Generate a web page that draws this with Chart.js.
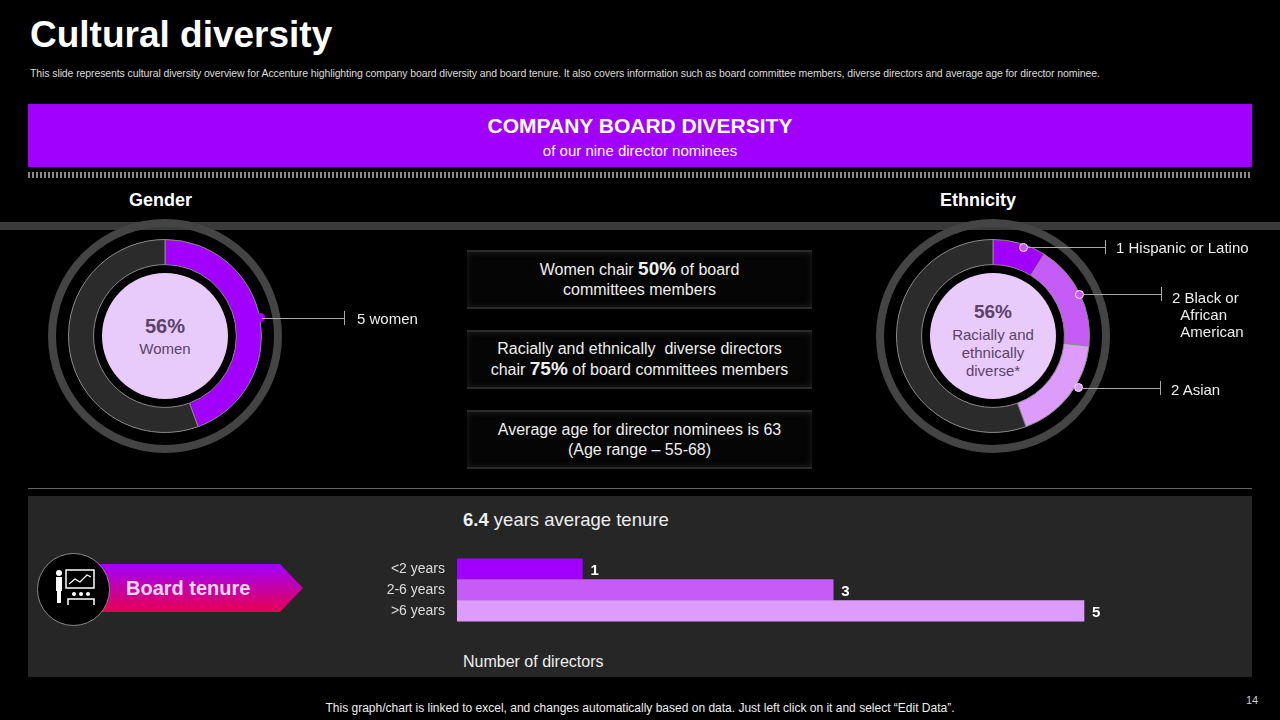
<!DOCTYPE html>
<html><head><meta charset="utf-8">
<script src="https://cdn.jsdelivr.net/npm/chart.js@4"></script>
<style>
body{margin:0;width:1280px;height:720px;background:#000;font-family:"Liberation Sans",Arial,sans-serif;color:#fff;position:relative;overflow:hidden}
.a{position:absolute}
.ring{position:absolute;border-radius:50%;box-sizing:border-box}
.box{position:absolute;left:467px;width:345px;height:55px;background:#050505;border-top:2px solid #2a2a2a;border-bottom:2px solid #2a2a2a;box-shadow:0 0 6px #222 inset;display:flex;align-items:center;justify-content:center;text-align:center;font-size:16px;line-height:20px;color:#eee}
.box b{font-size:19px}
.lbl{position:absolute;font-size:15px;color:#eee;line-height:17px}
.hl{position:absolute;height:1px;background:#aaa}
.vt{position:absolute;width:1px;height:14px;background:#aaa}
.dot{position:absolute;width:9px;height:9px;border-radius:50%;box-sizing:border-box}
</style></head><body>
<div class="a" style="left:30px;top:14px;font-size:37px;font-weight:bold">Cultural diversity</div>
<div class="a" style="left:30px;top:67px;font-size:10.5px;color:#ddd;white-space:nowrap;letter-spacing:-0.1px">This slide represents cultural diversity overview for Accenture highlighting company board diversity and board tenure. It also covers information such as board committee members, diverse directors and average age for director nominee.</div>
<div class="a" style="left:28px;top:104px;width:1224px;height:63px;background:#a100ff;text-align:center">
  <div style="font-size:21px;font-weight:bold;margin-top:10px">COMPANY BOARD DIVERSITY</div>
  <div style="font-size:15px;margin-top:4px">of our nine director nominees</div>
</div>
<div class="a" style="left:28px;top:172px;width:1224px;height:6px;background:repeating-linear-gradient(90deg,#888 0 2px,#000 2px 4px)"></div>
<div class="a" style="left:129px;top:190px;font-size:18px;font-weight:bold">Gender</div>
<div class="a" style="left:940px;top:190px;font-size:18px;font-weight:bold">Ethnicity</div>
<div class="a" style="left:0;top:222px;width:1280px;height:8px;background:#3a3a3a"></div>

<div class="ring" style="left:48px;top:219px;width:234px;height:234px;border:8px solid #444"></div>
<div class="ring" style="left:876px;top:219px;width:234px;height:234px;border:8px solid #444"></div>
<div class="a" style="left:68px;top:239px"><canvas id="gender" width="194" height="194"></canvas></div>
<div class="a" style="left:896px;top:239px"><canvas id="ethnic" width="194" height="194"></canvas></div>
<div class="ring" style="left:102px;top:273px;width:126px;height:126px;background:#e9cbfb;text-align:center;color:#5a4368">
  <div style="font-size:20px;font-weight:bold;margin-top:42px">56%</div><div style="font-size:15px;margin-top:2px">Women</div></div>
<div class="ring" style="left:930px;top:273px;width:126px;height:126px;background:#e9cbfb;text-align:center;color:#5a4368">
  <div style="font-size:19px;font-weight:bold;margin-top:28px">56%</div><div style="font-size:15px;line-height:18px;margin-top:3px">Racially and<br>ethnically<br>diverse*</div></div>

<div class="dot" style="left:256px;top:313px;background:#a100ff"></div>
<div class="hl" style="left:262px;top:318px;width:82px"></div><div class="vt" style="left:344px;top:311px"></div>
<div class="lbl" style="left:357px;top:310px">5 women</div>

<div class="dot" style="left:1019px;top:243px;background:#c55cf5;border:1px solid #eee"></div>
<div class="hl" style="left:1027px;top:247px;width:78px"></div><div class="vt" style="left:1105px;top:240px"></div>
<div class="lbl" style="left:1116px;top:239px">1 Hispanic or Latino</div>
<div class="dot" style="left:1075px;top:290px;background:#c55cf5;border:1px solid #eee"></div>
<div class="hl" style="left:1083px;top:294px;width:78px"></div><div class="vt" style="left:1161px;top:287px"></div>
<div class="lbl" style="left:1172px;top:289px">2 Black or<br>&nbsp;&nbsp;African<br>&nbsp;&nbsp;American</div>
<div class="dot" style="left:1074px;top:383px;background:#dd9cfb;border:1px solid #eee"></div>
<div class="hl" style="left:1082px;top:388px;width:78px"></div><div class="vt" style="left:1160px;top:381px"></div>
<div class="lbl" style="left:1171px;top:381px">2 Asian</div>

<div class="box" style="top:250px"><div>Women chair <b>50%</b> of board<br>committees members</div></div>
<div class="box" style="top:330px"><div>Racially and ethnically&nbsp; diverse directors<br>chair <b>75%</b> of board committees members</div></div>
<div class="box" style="top:410px"><div>Average age for director nominees is 63<br>(Age range – 55-68)</div></div>

<div class="a" style="left:28px;top:488px;width:1224px;height:1px;background:#666"></div>
<div class="a" style="left:28px;top:496px;width:1224px;height:181px;background:#262626"></div>
<div class="a" style="left:80px;top:564px;width:223px;height:48px;background:linear-gradient(180deg,#a100ff,#e8004f);clip-path:polygon(0 0,200px 0,223px 24px,200px 48px,0 48px)"></div>
<div class="a" style="left:126px;top:577px;font-size:20px;font-weight:bold;color:#f5d6ff">Board tenure</div>
<div class="ring" style="left:37px;top:553px;width:73px;height:73px;background:#000;border:1px solid #888"></div>
<svg class="a" style="left:50px;top:565px" width="48" height="48" viewBox="0 0 48 48" fill="#fff" stroke="#fff">
<circle cx="9" cy="8" r="3" stroke="none"/><rect x="6" y="12" width="6" height="14" stroke="none"/><rect x="7" y="26" width="4" height="12" stroke="none"/>
<rect x="16" y="5" width="28" height="18" fill="none" stroke-width="1.5"/><polyline points="19,19 25,14 30,17 37,10 41,12" fill="none" stroke-width="1.2"/>
<circle cx="24" cy="29" r="2" stroke="none"/><circle cx="31" cy="29" r="2" stroke="none"/><circle cx="38" cy="29" r="2" stroke="none"/>
<path d="M18 40 v-6 h26 v6" fill="none" stroke-width="1.5"/></svg>

<div class="a" style="left:463px;top:509px;font-size:18.5px;color:#eee"><b>6.4</b> years average tenure</div>
<div class="a" style="left:347px;top:546px"><canvas id="tenure" width="900" height="88"></canvas></div>
<div class="a" style="left:463px;top:653px;font-size:16px;color:#eee">Number of directors</div>

<div class="a" style="left:0;top:701px;width:1280px;text-align:center;font-size:12px;color:#eee">This graph/chart is linked to excel, and changes automatically based on data. Just left click on it and select “Edit Data”.</div>
<div class="a" style="left:1246px;top:694px;font-size:11px;color:#ccc">14</div>

<script>
const genderLabels = ['Women', 'Other'];
const genderValues = [5, 6.25];
const ethnicLabels = ['Hispanic or Latino', 'Black or African American', 'Asian', 'Other'];
const ethnicValues = [1, 2, 2, 6.25];
const tenureLabels = ['<2 years', '2-6 years', '>6 years'];
const tenureValues = [1, 3, 5];

const donutOptions = {
    responsive: false,
    animation: false,
    cutout: '74%',
    layout: { padding: 0 },
    plugins: { legend: { display: false }, tooltip: { enabled: false } }
};

new Chart(document.getElementById('gender'), {
    type: 'doughnut',
    data: {
        labels: genderLabels,
        datasets: [{
            data: genderValues,
            backgroundColor: ['#a100ff', '#2b2b2b'],
            borderColor: '#8a8a8a',
            borderWidth: 1
        }]
    },
    options: donutOptions
});

new Chart(document.getElementById('ethnic'), {
    type: 'doughnut',
    data: {
        labels: ethnicLabels,
        datasets: [{
            data: ethnicValues,
            backgroundColor: ['#a100ff', '#c55cf5', '#dd9cfb', '#2b2b2b'],
            borderColor: '#8a8a8a',
            borderWidth: 1
        }]
    },
    options: donutOptions
});

// value labels at the bar ends
const barValues = {
    id: 'barValues',
    afterDatasetsDraw(chart) {
        const ctx = chart.ctx;
        ctx.save();
        ctx.fillStyle = '#fff';
        ctx.font = 'bold 15px "Liberation Sans", Arial';
        ctx.textBaseline = 'middle';
        chart.getDatasetMeta(0).data.forEach((bar, i) => {
            ctx.fillText(tenureValues[i], bar.x + 8, bar.y + 2);
        });
        ctx.restore();
    }
};

new Chart(document.getElementById('tenure'), {
    type: 'bar',
    data: {
        labels: tenureLabels,
        datasets: [{
            data: tenureValues,
            backgroundColor: ['#a100ff', '#c55cf5', '#dd9cfb'],
            borderWidth: 0,
            barPercentage: 1,
            categoryPercentage: 1
        }]
    },
    plugins: [barValues],
    options: {
        indexAxis: 'y',
        responsive: false,
        animation: false,
        layout: { padding: { top: 2, bottom: 2, right: 0 } },
        scales: {
            x: { display: false, min: 0, max: 6.3 },
            y: {
                grid: { display: false },
                border: { display: false },
                ticks: { color: '#ddd', font: { size: 14, family: '"Liberation Sans", Arial' }, padding: 4 },
                afterFit(scale) { scale.width = 110; }
            }
        },
        plugins: { legend: { display: false }, tooltip: { enabled: false } }
    }
});
</script>
</body></html>
